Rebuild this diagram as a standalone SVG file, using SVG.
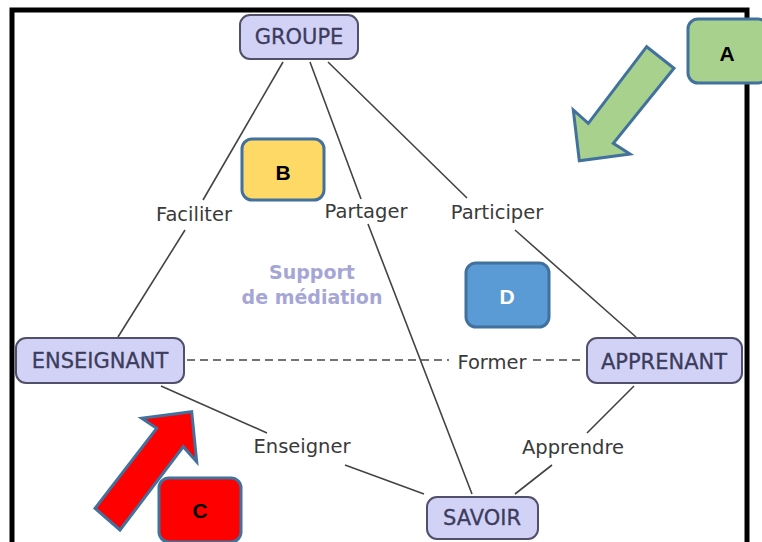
<svg xmlns="http://www.w3.org/2000/svg" width="762" height="542" viewBox="0 0 762 542">
<style>
.node rect{fill:#d2d2f7;stroke:#50506a;stroke-width:2}
.node text{font-family:"DejaVu Sans",Verdana,sans-serif;font-size:21px;fill:#3c3c5c;stroke:#3c3c5c;stroke-width:0.3;text-anchor:middle;dominant-baseline:central}
.edge{stroke:#444;stroke-width:1.6;fill:none}
.dash{stroke-dasharray:8 5}
.lbl{font-family:"DejaVu Sans",Verdana,sans-serif;font-size:19.5px;fill:#3a3a3a;text-anchor:middle;dominant-baseline:central}
.sup{font-family:"DejaVu Sans",Verdana,sans-serif;font-size:19px;font-weight:bold;fill:#a6a6d6;text-anchor:middle;dominant-baseline:central}
.tag rect{stroke:#41719c;stroke-width:3}
.tag text{font-family:"Liberation Sans",Arial,sans-serif;font-size:21px;font-weight:bold;text-anchor:middle;dominant-baseline:central}
.arr{stroke:#41719c;stroke-width:3;stroke-linejoin:miter}
</style>
<rect width="762" height="542" fill="#fff"/>
<rect x="12" y="10" width="735" height="545" fill="none" stroke="#000" stroke-width="5"/>
<g id="connectors">
<path class="edge" d="M283 62 L203 200 M185 230 L118 337"/>
<path class="edge" d="M310 62 L361 199 M368 224 L472 494"/>
<path class="edge" d="M328 62 L467 198 M515 230 L636 337"/>
<path class="edge dash" d="M187 360 L449 360 M533 360 L585 360"/>
<path class="edge" d="M161 386 L267 433 M345 465 L424 494"/>
<path class="edge" d="M634 386 L587 433 M552 465 L515 494"/>
</g>
<g id="edge-labels">
<text class="lbl" x="194" y="214">Faciliter</text>
<text class="lbl" x="366" y="211">Partager</text>
<text class="lbl" x="497" y="212">Participer</text>
<text class="lbl" x="492" y="362">Former</text>
<text class="lbl" x="302" y="446">Enseigner</text>
<text class="lbl" x="573" y="447">Apprendre</text>
</g>
<g id="support">
<text class="sup" x="312" y="272">Support</text>
<text class="sup" x="312" y="297">de médiation</text>
</g>
<g id="groupe" class="node"><rect x="240" y="15" width="118" height="44" rx="10"/><text x="299" y="37">GROUPE</text></g>
<g id="enseignant" class="node"><rect x="16" y="338" width="168" height="45" rx="10"/><text x="100" y="361">ENSEIGNANT</text></g>
<g id="apprenant" class="node"><rect x="587" y="338" width="155" height="45" rx="10"/><text x="664" y="362">APPRENANT</text></g>
<g id="savoir" class="node"><rect x="427" y="497" width="111" height="42" rx="10"/><text x="482" y="518">SAVOIR</text></g>
<g id="arrow-a"><polygon class="arr" fill="#a9d18e" points="646.7,46.7 674,68.3 613.3,143.3 630,154 579.3,160.7 573.3,110 588.3,123.3"/></g>
<g id="arrow-c"><polygon class="arr" fill="#ff0000" points="95,508.3 156.7,428.3 141.7,418.3 191.7,411.7 196.7,461.7 183.3,446.7 120,530"/></g>
<g id="tag-a" class="tag"><rect x="688" y="19" width="80" height="64" rx="10" fill="#a9d18e"/><text x="727" y="53" fill="#000">A</text></g>
<g id="tag-b" class="tag"><rect x="242" y="139" width="82" height="61" rx="10" fill="#ffd966"/><text x="283" y="172" fill="#000">B</text></g>
<g id="tag-c" class="tag"><rect x="159" y="478" width="82" height="64" rx="10" fill="#ff0000"/><text x="200" y="510" fill="#000">C</text></g>
<g id="tag-d" class="tag"><rect x="466" y="263" width="83" height="64" rx="10" fill="#5b9bd5"/><text x="507" y="296" fill="#fff">D</text></g>
</svg>
